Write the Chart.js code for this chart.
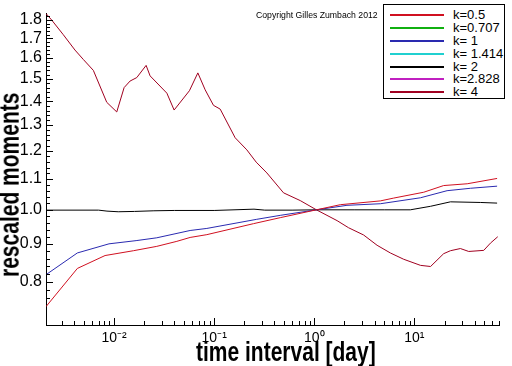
<!DOCTYPE html>
<html>
<head>
<meta charset="utf-8">
<script src="https://cdn.jsdelivr.net/npm/chart.js@4.4.1/dist/chart.umd.min.js"></script>
<style>
  body { margin:0; background:#fff; }
  .wrap { position:relative; width:512px; height:366px; font-family:'Liberation Sans', Arial, sans-serif; }
  #c { position:absolute; left:0; top:0; }
  .copy { position:absolute; left:256px; top:11px; font-size:8.7px; line-height:1; white-space:nowrap; }
  .legend { position:absolute; left:383px; top:4px; width:120px; height:93px; border:1px solid #000; background:#fff; }
  .row { position:absolute; left:0; height:14px; width:120px; }
  .row .ln { position:absolute; left:6px; top:6px; width:54px; height:2px; }
  .row .tx { position:absolute; left:69px; top:0; font-size:13px; line-height:14px; white-space:nowrap; }
  .xtitle { position:absolute; left:196px; top:338px; font-size:21px; font-weight:bold; line-height:1; white-space:nowrap;
            transform-origin:0 0; transform:scaleY(1.3); }
  .ytitle { position:absolute; left:-5px; top:277px; font-size:21px; font-weight:bold; line-height:1; white-space:nowrap;
            transform-origin:0 0; transform:rotate(-90deg) scaleY(1.3); }
</style>
</head>
<body>
<div class="wrap">
  <canvas id="c" width="512" height="366"></canvas>
  <div class="copy">Copyright Gilles Zumbach 2012</div>
  <div class="legend" id="legend"></div>
  <div class="xtitle">time interval [day]</div>
  <div class="ytitle">rescaled moments</div>
</div>
<script>
// ********* Data *********

const kLabels = ['k=0.5', 'k=0.707', 'k= 1', 'k= 1.414', 'k= 2', 'k=2.828', 'k= 4'];
const kColors = ['#d01020', '#10b010', '#2a2ab0', '#20d0d0', '#000000', '#c020c0', '#a00020'];

// k = 0.5
const daysK05 = [0.00209, 0.0043, 0.00813, 0.0156, 0.0267, 0.0424, 0.0575, 0.0845, 0.247, 0.457, 1.05, 1.82, 4.57, 6.21, 12.4, 19.6, 33.7, 67];
const momK05  = [0.741, 0.834, 0.868, 0.881, 0.893, 0.907, 0.918, 0.926, 0.958, 0.976, 1.0, 1.016, 1.028, 1.037, 1.056, 1.078, 1.084, 1.102];

// k = 1
const daysK1 = [0.00209, 0.0043, 0.0089, 0.0166, 0.0267, 0.0575, 0.0845, 0.266, 0.457, 1.05, 2.12, 4.57, 11.5, 21.2, 36.3, 67];
const momK1  = [0.818, 0.875, 0.900, 0.909, 0.917, 0.938, 0.944, 0.971, 0.983, 1.0, 1.014, 1.019, 1.038, 1.061, 1.069, 1.076];

// k = 2
const daysK2 = [0.00209, 0.007, 0.0085, 0.011, 0.016, 0.025, 0.04, 0.1, 0.25, 0.32, 0.6, 1.05, 2.5, 5.0, 9.1, 14.5, 22.9, 46, 67];
const momK2  = [0.999, 0.999, 0.996, 0.994, 0.995, 0.997, 0.998, 0.998, 1.002, 0.999, 0.999, 1.0, 1.0, 1.0, 1.0, 1.011, 1.025, 1.023, 1.021];

// k = 4
const daysK4 = [0.00209, 0.00238, 0.00311, 0.00407, 0.00493, 0.00621, 0.00845, 0.01064, 0.0126, 0.01445, 0.01686, 0.0209, 0.0229,
                0.0337, 0.0398, 0.0566, 0.0687, 0.0813, 0.0984, 0.1148, 0.162, 0.212, 0.263, 0.336, 0.493, 0.724, 1.05,
                1.69, 2.2, 3.11, 4.24, 5.75, 7.82, 11.5, 14.5, 19.6, 22.9, 28.8, 34.9, 49.3, 57.5, 68];
const momK4  = [1.836, 1.80, 1.72, 1.64, 1.593, 1.54, 1.395, 1.354, 1.46, 1.49, 1.506, 1.564, 1.514,
                1.435, 1.362, 1.446, 1.528, 1.45, 1.382, 1.366, 1.25, 1.204, 1.159, 1.121, 1.054, 1.029, 1.0,
                0.967, 0.946, 0.925, 0.896, 0.875, 0.858, 0.842, 0.839, 0.873, 0.881, 0.887, 0.879, 0.882, 0.902, 0.920];

const yTicks = [0.8, 0.9, 1.0, 1.1, 1.2, 1.3, 1.4, 1.5, 1.6, 1.7, 1.8];
const xTicks = [0.01, 0.1, 1, 10];
const xTickLabels = ['10\u207B\u00B2', '10\u207B\u00B9', '10\u2070', '10\u00B9'];

// ********* helpers *********

const pairs = (xs, ys) => xs.map((x, i) => ({ x: x, y: ys[i] }));

const series = [pairs(daysK05, momK05), [], pairs(daysK1, momK1), [], pairs(daysK2, momK2), [], pairs(daysK4, momK4)];

// minor tick positions (no labels)
const yMinor = [];
for (let i = 38; i <= 91; i++) { if (i % 5 !== 0) yMinor.push(i / 50); }
const xMinor = [];
[0.001, 0.01, 0.1, 1, 10].forEach(d => { for (let m = 2; m <= 9; m++) xMinor.push(m * d); });

// ********* legend *********

const legend = document.getElementById('legend');
const rowCenters = [10, 23, 36, 49, 62, 74, 87];
kLabels.forEach((lab, i) => {
  legend.innerHTML += `<div class="row" style="top:${rowCenters[i] - 7}px">
      <span class="ln" style="background:${kColors[i]}"></span>
      <span class="tx">${lab}</span></div>`;
});

// ********* inward tick marks *********

const innerTicks = {
  id: 'innerTicks',
  afterDraw(chart) {
    const ctx = chart.ctx, a = chart.chartArea;
    const xs = chart.scales.x, ys = chart.scales.y;
    ctx.save();
    ctx.strokeStyle = '#000';
    ctx.lineWidth = 1;
    ctx.beginPath();
    const yt = (v, len) => {
      if (v < ys.min || v > ys.max) return;
      const p = Math.round(ys.getPixelForValue(v)) + 0.5;
      ctx.moveTo(a.left, p); ctx.lineTo(a.left + len, p);
    };
    const xt = (v, len) => {
      if (v < xs.min || v > xs.max) return;
      const p = Math.round(xs.getPixelForValue(v)) + 0.5;
      ctx.moveTo(p, a.bottom); ctx.lineTo(p, a.bottom - len);
    };
    yTicks.forEach(v => yt(v, 7));
    yMinor.forEach(v => yt(v, 4));
    xTicks.forEach(v => xt(v, 7));
    xMinor.forEach(v => xt(v, 4));
    ctx.stroke();
    ctx.restore();
  }
};

// ********* chart *********

Chart.defaults.font.family = "'Liberation Sans', Arial, sans-serif";
Chart.defaults.color = '#000';

new Chart(document.getElementById('c').getContext('2d'), {
  type: 'line',
  data: {
    datasets: kLabels.map((lab, i) => ({
      label: lab,
      data: series[i],
      borderColor: kColors[i],
      borderWidth: 1,
      pointRadius: 0,
      tension: 0,
      fill: false
    }))
  },
  options: {
    responsive: false,
    devicePixelRatio: 1,
    animation: false,
    layout: { padding: { top: 7, right: 13, left: 0, bottom: 0 } },
    plugins: { legend: { display: false }, tooltip: { enabled: false } },
    scales: {
      x: {
        type: 'logarithmic',
        min: 0.00209,
        max: 70,
        grid: { display: false, drawTicks: false },
        border: { display: true, color: '#000', width: 1 },
        afterBuildTicks: s => { s.ticks = xTicks.map(v => ({ value: v })); },
        afterFit: s => { s.height = 41; },
        ticks: {
          autoSkip: false,
          maxRotation: 0,
          padding: 5,
          font: { size: 14 },
          callback: (v, i) => xTickLabels[i]
        }
      },
      y: {
        type: 'logarithmic',
        min: 0.741,
        max: 1.836,
        grid: { display: false, drawTicks: false },
        border: { display: true, color: '#000', width: 1 },
        afterBuildTicks: s => { s.ticks = yTicks.map(v => ({ value: v })); },
        afterFit: s => { s.width = 46; },
        ticks: {
          autoSkip: false,
          padding: 4,
          font: { size: 16 },
          callback: v => Number(v).toFixed(1)
        }
      }
    }
  },
  plugins: [innerTicks]
});
</script>
</body>
</html>
